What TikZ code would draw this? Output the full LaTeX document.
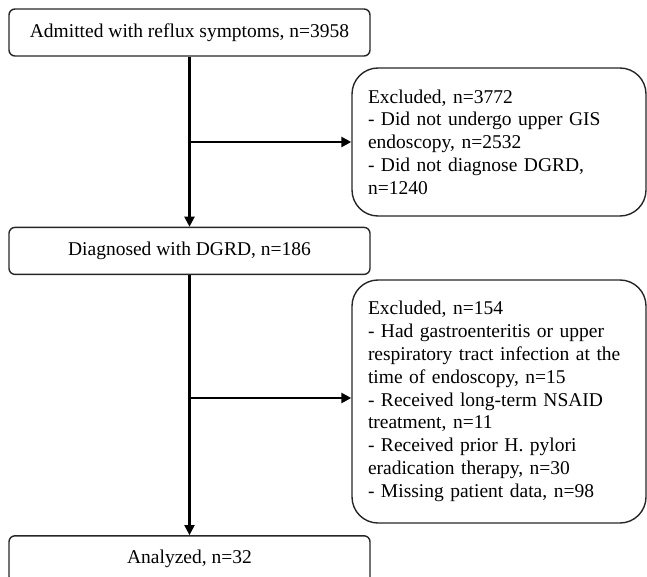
\documentclass[tikz,border=0pt]{standalone}
\usepackage{fontspec}
\setmainfont{Liberation Serif}
\usetikzlibrary{positioning,arrows.meta}

\begin{document}
\begin{tikzpicture}[x=1pt, y=1pt, font=\fontsize{19.5}{22.8}\selectfont,
          mainbox/.style={draw=black!85, line width=1.4pt, rounded corners=6pt,
                          minimum width=361pt, minimum height=47pt, text centered},
          exbox/.style={draw=black!85, line width=1.4pt, rounded corners=26pt,
                        minimum width=294pt, text width=262pt, inner xsep=16pt, align=left},
          flow/.style={line width=2.1pt, -{Triangle[length=10pt, width=10pt]}}]
        \useasboundingbox (0,0) rectangle (647,-577);
        \node[mainbox] (admit) at (189.5,-32.5) {Admitted with reflux symptoms, n=3958};
        \node[mainbox, below=170pt of admit] (diag) {Diagnosed with DGRD, n=186};
        \node[mainbox, below=260pt of diag]  (anal) {Analyzed, n=32};
        \node[exbox, minimum height=148pt] (excA) at (499,-142)
          {Excluded, n=3772\\- Did not undergo upper GIS\\endoscopy, n=2532\\- Did not diagnose DGRD,\\n=1240};
        \node[exbox, minimum height=243pt] (excB) at (499,-401.5)
          {Excluded, n=154\\- Had gastroenteritis or upper\\respiratory tract infection at the\\time of endoscopy, n=15\\- Received long-term NSAID\\treatment, n=11\\- Received prior H. pylori\\eradication therapy, n=30\\- Missing patient data, n=98};
        % main flow
        \foreach \a/\b in {admit/diag, diag/anal}
          \draw[flow] (\a) -- (\b);
        % exclusions
        \coordinate (brA) at (admit.south |- excA.west);
        \coordinate (brB) at (diag.south |- 0,-398);
        \draw[flow, line width=2.7pt] (brA) -- (excA.west);
        \draw[flow, line width=2.7pt] (brB) -- (excB.west |- brB);
      \end{tikzpicture}
\end{document}
